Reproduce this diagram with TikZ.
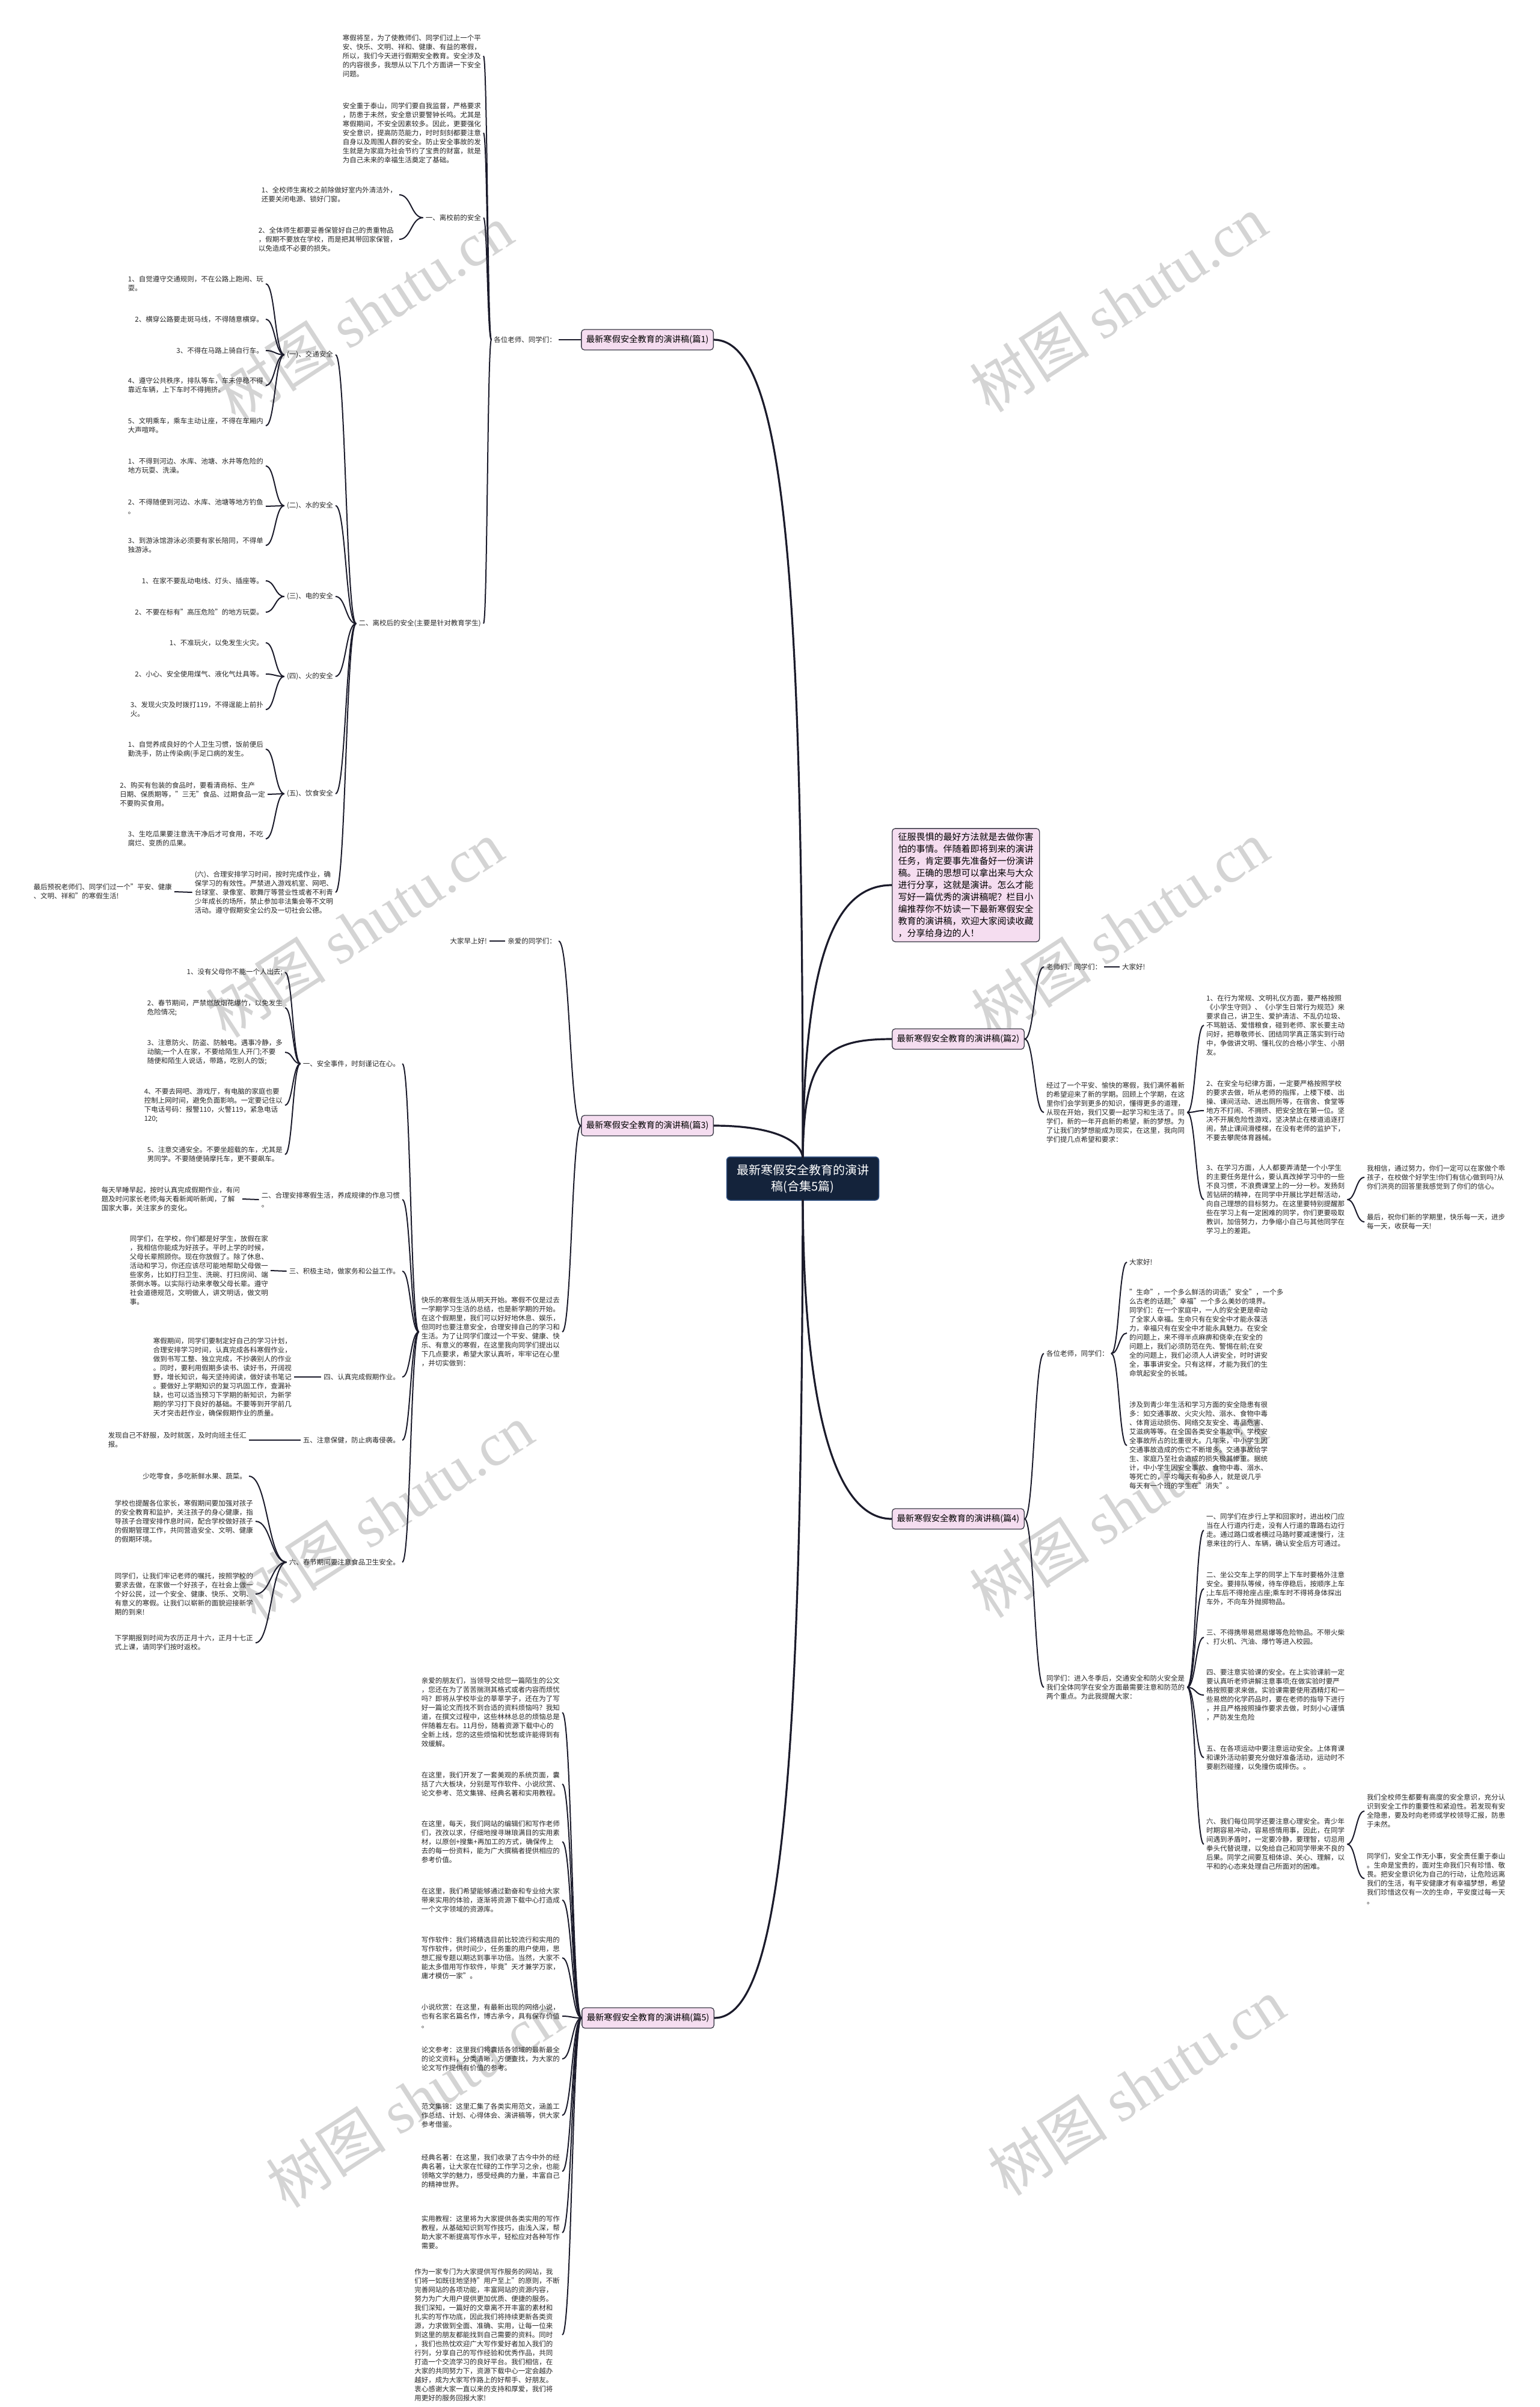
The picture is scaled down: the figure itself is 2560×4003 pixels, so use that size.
\documentclass[tikz,border=0pt]{standalone}
\usepackage{fontspec}
\setmainfont{Noto Sans CJK SC}
\newfontfamily\wmfont{Liberation Serif}
\usetikzlibrary{calc}
\definecolor{linec}{HTML}{1B1B2B}
\definecolor{pinkf}{HTML}{F5DDF0}
\definecolor{boxl}{HTML}{3C3C48}
\definecolor{navy}{HTML}{14233B}
\definecolor{navyl}{HTML}{2F4F80}
\definecolor{wm}{HTML}{D4D4D4}
\definecolor{txtc}{HTML}{262626}
\tikzset{
  t/.style={font=\fontsize{11.5}{15}\selectfont, align=left, inner xsep=4pt, inner ysep=1pt, text=txtc},
  tl/.style={t, anchor=east},
  tr/.style={t, anchor=west},
  topicbox/.style={draw=boxl, fill=pinkf, rounded corners=5pt, line width=1.3pt, font=\fontsize{14.3}{18}\selectfont, minimum height=34pt, inner xsep=8pt, inner ysep=4pt, text=black},
  introbox/.style={draw=boxl, fill=pinkf, rounded corners=5pt, line width=1.3pt, font=\fontsize{15}{20}\selectfont, align=left, inner xsep=10pt, inner ysep=7pt, text=black},
  centerbox/.style={draw=navyl, fill=navy, rounded corners=6pt, line width=1.5pt, font=\fontsize{20}{27}\selectfont, align=center, text=white, minimum width=253pt, minimum height=72pt},
  con/.style={draw=linec, line width=2pt},
  mcon/.style={draw=linec, line width=3.2pt},
  wmark/.style={text=wm, rotate=33, inner sep=0pt}
}
\newcommand\Lc[2]{\draw[con] let \p1=(#1.west), \p2=(#2.east) in (\p1) .. controls ({0.5*\x1+0.5*\x2},\y1) and ({0.5*\x1+0.5*\x2},\y2) .. (\p2);}
\newcommand\Rc[2]{\draw[con] let \p1=(#1.east), \p2=(#2.west) in (\p1) .. controls ({0.5*\x1+0.5*\x2},\y1) and ({0.5*\x1+0.5*\x2},\y2) .. (\p2);}
\newcommand\wmtext{{\fontsize{100}{100}\selectfont 树图 \wmfont shutu.cn}}
\begin{document}
\begin{tikzpicture}[x=1pt,y=-1pt]
\useasboundingbox (0,0) rectangle (2560,4003);
\fill[white] (0,0) rectangle (2560,4003);
% watermarks
\node[wmark] (w1) at (606,520) {\wmtext};
\node[wmark] (w2) at (1860,505) {\wmtext};
\node[wmark] (w3) at (590,1545) {\wmtext};
\node[wmark] (w4) at (1863,1545) {\wmtext};
\node[wmark] (w5) at (640,2515) {\wmtext};
\node[wmark] (w6) at (1860,2510) {\wmtext};
\node[wmark] (w7) at (690,3490) {\wmtext};
\node[wmark] (w8) at (1890,3470) {\wmtext};

% center and topics
\node[centerbox] (c) at (1335,1960) {最新寒假安全教育的演讲\\稿(合集5篇)};
\coordinate (ctop) at (1335,1925);
\coordinate (cbot) at (1335,1995);
\node[topicbox, anchor=east] (p1) at (1187,565) {最新寒假安全教育的演讲稿(篇1)};
\node[introbox, anchor=west] (intro) at (1483,1472) {征服畏惧的最好方法就是去做你害\\怕的事情。伴随着即将到来的演讲\\任务，肯定要事先准备好一份演讲\\稿。正确的思想可以拿出来与大众\\进行分享，这就是演讲。怎么才能\\写好一篇优秀的演讲稿呢？栏目小\\编推荐你不妨读一下最新寒假安全\\教育的演讲稿，欢迎大家阅读收藏\\，分享给身边的人！};
\node[topicbox, anchor=west] (p2) at (1483,1728) {最新寒假安全教育的演讲稿(篇2)};
\node[topicbox, anchor=east] (p3) at (1187,1872) {最新寒假安全教育的演讲稿(篇3)};
\node[topicbox, anchor=west] (p4) at (1483,2526) {最新寒假安全教育的演讲稿(篇4)};
\node[topicbox, anchor=east] (p5) at (1188,3356) {最新寒假安全教育的演讲稿(篇5)};

\draw[mcon] (ctop) .. controls (1335,1000) and (1310,565) .. (p1.east);
\draw[mcon] (ctop) .. controls (1337,1600) and (1385,1472) .. (intro.west);
\draw[mcon] (ctop) .. controls (1337,1760) and (1370,1728) .. (p2.west);
\draw[mcon] (ctop) .. controls (1330,1890) and (1270,1872) .. (p3.east);
\draw[mcon] (cbot) .. controls (1337,2350) and (1390,2526) .. (p4.west);
\draw[mcon] (cbot) .. controls (1333,2950) and (1300,3356) .. (p5.east);

% ---------- 篇1 ----------
\node[tl] (a1) at (929,565) {各位老师、同学们：};
\draw[con] (a1.east) -- (p1.west);
\node[tl] (a1p1) at (804,93) {寒假将至，为了使教师们、同学们过上一个平\\安、快乐、文明、祥和、健康、有益的寒假，\\所以，我们今天进行假期安全教育。安全涉及\\的内容很多，我想从以下几个方面讲一下安全\\问题。};
\node[tl] (a1p2) at (804,221) {安全重于泰山，同学们要自我监督，严格要求\\，防患于未然，安全意识要警钟长鸣。尤其是\\寒假期间，不安全因素较多。因此，更要强化\\安全意识，提高防范能力，时时刻刻都要注意\\自身以及周围人群的安全。防止安全事故的发\\生就是为家庭为社会节约了宝贵的财富，就是\\为自己未来的幸福生活奠定了基础。};
\node[tl] (s1) at (804,362) {一、离校前的安全};
\node[tl] (s1a) at (664,324) {1、全校师生离校之前除做好室内外清洁外，\\还要关闭电源、锁好门窗。};
\node[tl] (s1b) at (664,398) {2、全体师生都要妥善保管好自己的贵重物品\\，假期不要放在学校，而是把其带回家保管，\\以免造成不必要的损失。};
\node[tl] (s2) at (804,1037) {二、离校后的安全(主要是针对教育学生)};
\Lc{a1}{a1p1}\Lc{a1}{a1p2}\Lc{a1}{s1}\Lc{a1}{s2}
\Lc{s1}{s1a}\Lc{s1}{s1b}

\node[tl] (k1) at (558,590) {(一)、交通安全};
\node[tl] (k2) at (558,841) {(二)、水的安全};
\node[tl] (k3) at (558,992) {(三)、电的安全};
\node[tl] (k4) at (558,1125) {(四)、火的安全};
\node[tl] (k5) at (558,1320) {(五)、饮食安全};
\node[tl] (k6) at (558,1484) {(六)、合理安排学习时间，按时完成作业，确\\保学习的有效性。严禁进入游戏机室、网吧、\\台球室、录像室、歌舞厅等营业性或者不利青\\少年成长的场所，禁止参加非法集会等不文明\\活动。遵守假期安全公约及一切社会公德。};
\Lc{s2}{k1}\Lc{s2}{k2}\Lc{s2}{k3}\Lc{s2}{k4}\Lc{s2}{k5}\Lc{s2}{k6}

\node[tl] (k1a) at (442,472) {1、自觉遵守交通规则，不在公路上跑闹、玩\\耍。};
\node[tl] (k1b) at (442,531) {2、横穿公路要走斑马线，不得随意横穿。};
\node[tl] (k1c) at (442,583) {3、不得在马路上骑自行车。};
\node[tl] (k1d) at (442,641) {4、遵守公共秩序，排队等车，车未停稳不得\\靠近车辆，上下车时不得拥挤。};
\node[tl] (k1e) at (442,708) {5、文明乘车，乘车主动让座，不得在车厢内\\大声喧哗。};
\Lc{k1}{k1a}\Lc{k1}{k1b}\Lc{k1}{k1c}\Lc{k1}{k1d}\Lc{k1}{k1e}
\node[tl] (k2a) at (442,775) {1、不得到河边、水库、池塘、水井等危险的\\地方玩耍、洗澡。};
\node[tl] (k2b) at (442,842) {2、不得随便到河边、水库、池塘等地方钓鱼\\。};
\node[tl] (k2c) at (442,907) {3、到游泳馆游泳必须要有家长陪同，不得单\\独游泳。};
\Lc{k2}{k2a}\Lc{k2}{k2b}\Lc{k2}{k2c}
\node[tl] (k3a) at (442,966) {1、在家不要乱动电线、灯头、插座等。};
\node[tl] (k3b) at (442,1018) {2、不要在标有"高压危险"的地方玩耍。};
\Lc{k3}{k3a}\Lc{k3}{k3b}
\node[tl] (k4a) at (442,1069) {1、不准玩火，以免发生火灾。};
\node[tl] (k4b) at (442,1121) {2、小心、安全使用煤气、液化气灶具等。};
\node[tl] (k4c) at (442,1180) {3、发现火灾及时拨打119，不得逞能上前扑\\火。};
\Lc{k4}{k4a}\Lc{k4}{k4b}\Lc{k4}{k4c}
\node[tl] (k5a) at (442,1246) {1、自觉养成良好的个人卫生习惯，饭前便后\\勤洗手，防止传染病(手足口病的发生。};
\node[tl] (k5b) at (445,1321) {2、购买有包装的食品时，要看清商标、生产\\日期、保质期等，"三无"食品、过期食品一定\\不要购买食用。};
\node[tl] (k5c) at (442,1395) {3、生吃瓜果要注意洗干净后才可食用，不吃\\腐烂、变质的瓜果。};
\Lc{k5}{k5a}\Lc{k5}{k5b}\Lc{k5}{k5c}
\node[tl] (k6a) at (290,1483) {最后预祝老师们、同学们过一个"平安、健康\\、文明、祥和"的寒假生活!};
\draw[con] (k6.west) -- (k6a.east);

% ---------- 篇2 ----------
\node[tr] (b1) at (1736,1608) {老师们、同学们：};
\node[tr] (b1a) at (1862,1608) {大家好!};
\draw[con] (b1.east) -- (b1a.west);
\node[tr] (b2) at (1736,1850) {经过了一个平安、愉快的寒假，我们满怀着新\\的希望迎来了新的学期。回顾上个学期，在这\\里你们会学到更多的知识，懂得更多的道理，\\从现在开始，我们又要一起学习和生活了。同\\学们，新的一年开启新的希望，新的梦想。为\\了让我们的梦想能成为现实，在这里，我向同\\学们提几点希望和要求：};
\Rc{p2}{b1}\Rc{p2}{b2}
\node[tr] (b2a) at (2002,1705) {1、在行为常规、文明礼仪方面，要严格按照\\《小学生守则》、《小学生日常行为规范》来\\要求自己，讲卫生、爱护清洁、不乱仍垃圾、\\不骂脏话、爱惜粮食，碰到老师、家长要主动\\问好，把尊敬师长、团结同学真正落实到行动\\中，争做讲文明、懂礼仪的合格小学生、小朋\\友。};
\node[tr] (b2b) at (2002,1847) {2、在安全与纪律方面，一定要严格按照学校\\的要求去做，听从老师的指挥，上楼下楼、出\\操、课间活动、进出厕所等，在宿舍、食堂等\\地方不打闹、不拥挤、把安全放在第一位。坚\\决不开展危险性游戏，坚决禁止在楼道追逐打\\闹，禁止课间滑楼梯，在没有老师的监护下，\\不要去攀爬体育器械。};
\node[tr] (b2c) at (2002,1995) {3、在学习方面，人人都要弄清楚一个小学生\\的主要任务是什么，要认真改掉学习中的一些\\不良习惯，不浪费课堂上的一分一秒。发扬刻\\苦钻研的精神，在同学中开展比学赶帮活动，\\向自己理想的目标努力。在这里要特别提醒那\\些在学习上有一定困难的同学，你们更要吸取\\教训，加倍努力，力争缩小自己与其他同学在\\学习上的差距。};
\Rc{b2}{b2a}\Rc{b2}{b2b}\Rc{b2}{b2c}
\node[tr] (b2c1) at (2269,1958) {我相信，通过努力，你们一定可以在家做个乖\\孩子，在校做个好学生!你们有信心做到吗?从\\你们洪亮的回答里我感觉到了你们的信心。};
\node[tr] (b2c2) at (2269,2032) {最后，祝你们新的学期里，快乐每一天，进步\\每一天，收获每一天!};
\Rc{b2c}{b2c1}\Rc{b2c}{b2c2}

% ---------- 篇3 ----------
\node[tl] (e1) at (929,1565) {亲爱的同学们：};
\node[tl] (e1a) at (814,1565) {大家早上好!};
\draw[con] (e1.west) -- (e1a.east);
\node[tl] (e2) at (935,2215) {快乐的寒假生活从明天开始。寒假不仅是过去\\一学期学习生活的总结，也是新学期的开始。\\在这个假期里，我们可以好好地休息、娱乐，\\但同时也要注意安全，合理安排自己的学习和\\生活。为了让同学们度过一个平安、健康、快\\乐、有意义的寒假，在这里我向同学们提出以\\下几点要求，希望大家认真听，牢牢记在心里\\，并切实做到：};
\Lc{p3}{e1}\Lc{p3}{e2}
\node[tl] (g1) at (669,1769) {一、安全事件，时刻谨记在心。};
\node[tl] (g2) at (669,1995) {二、合理安排寒假生活，养成规律的作息习惯\\。};
\node[tl] (g3) at (669,2114) {三、积极主动，做家务和公益工作。};
\node[tl] (g4) at (669,2290) {四、认真完成假期作业。};
\node[tl] (g5) at (669,2395) {五、注意保健，防止病毒侵袭。};
\node[tl] (g6) at (669,2598) {六、春节期间要注意食品卫生安全。};
\Lc{e2}{g1}\Lc{e2}{g2}\Lc{e2}{g3}\Lc{e2}{g4}\Lc{e2}{g5}\Lc{e2}{g6}
\node[tl] (g1a) at (474,1617) {1、没有父母你不能一个人出去;};
\node[tl] (g1b) at (474,1676) {2、春节期间，严禁燃放烟花爆竹，以免发生\\危险情况;};
\node[tl] (g1c) at (474,1750) {3、注意防火、防盗、防触电。遇事冷静，多\\动脑;一个人在家，不要给陌生人开门;不要\\随便和陌生人说话，带路，吃别人的饭;};
\node[tl] (g1d) at (474,1838) {4、不要去网吧、游戏厅，有电脑的家庭也要\\控制上网时间，避免负面影响。一定要记住以\\下电话号码：报警110，火警119，紧急电话\\120;};
\node[tl] (g1e) at (474,1920) {5、注意交通安全。不要坐超载的车，尤其是\\男同学。不要随便骑摩托车，更不要飙车。};
\Lc{g1}{g1a}\Lc{g1}{g1b}\Lc{g1}{g1c}\Lc{g1}{g1d}\Lc{g1}{g1e}
\node[tl] (g2a) at (403,1994) {每天早睡早起，按时认真完成假期作业，有问\\题及时问家长老师;每天看新闻听新闻，了解\\国家大事，关注家乡的变化。};
\draw[con] (g2.west) -- (g2a.east);
\node[tl] (g3a) at (450,2113) {同学们，在学校，你们都是好学生，放假在家\\，我相信你能成为好孩子。平时上学的时候，\\父母长辈照顾你。现在你放假了。除了休息、\\活动和学习，你还应该尽可能地帮助父母做一\\些家务，比如打扫卫生、洗碗、打扫房间、端\\茶倒水等。以实际行动来孝敬父母长辈。遵守\\社会道德规范，文明做人，讲文明话，做文明\\事。};
\draw[con] (g3.west) -- (g3a.east);
\node[tl] (g4a) at (489,2290) {寒假期间，同学们要制定好自己的学习计划，\\合理安排学习时间，认真完成各科寒假作业，\\做到书写工整、独立完成，不抄袭别人的作业\\。同时，要利用假期多读书、读好书，开阔视\\野，增长知识，每天坚持阅读，做好读书笔记\\。要做好上学期知识的复习巩固工作，查漏补\\缺，也可以适当预习下学期的新知识，为新学\\期的学习打下良好的基础。不要等到开学前几\\天才突击赶作业，确保假期作业的质量。};
\draw[con] (g4.west) -- (g4a.east);
\node[tl] (g5a) at (414,2395) {发现自己不舒服，及时就医，及时向班主任汇\\报。};
\draw[con] (g5.west) -- (g5a.east);
\node[tl] (g6a) at (414,2455) {少吃零食，多吃新鲜水果、蔬菜。};
\node[tl] (g6b) at (425,2530) {学校也提醒各位家长，寒假期间要加强对孩子\\的安全教育和监护，关注孩子的身心健康，指\\导孩子合理安排作息时间，配合学校做好孩子\\的假期管理工作，共同营造安全、文明、健康\\的假期环境。};
\node[tl] (g6c) at (425,2651) {同学们，让我们牢记老师的嘱托，按照学校的\\要求去做，在家做一个好孩子，在社会上做一\\个好公民，过一个安全、健康、快乐、文明、\\有意义的寒假。让我们以崭新的面貌迎接新学\\期的到来!};
\node[tl] (g6d) at (425,2732) {下学期报到时间为农历正月十六，正月十七正\\式上课，请同学们按时返校。};
\Lc{g6}{g6a}\Lc{g6}{g6b}\Lc{g6}{g6c}\Lc{g6}{g6d}

% ---------- 篇4 ----------
\node[tr] (d1) at (1736,2251) {各位老师，同学们：};
\node[tr] (d2) at (1736,2806) {同学们：进入冬季后，交通安全和防火安全是\\我们全体同学在安全方面最需要注意和防范的\\两个重点。为此我提醒大家：};
\Rc{p4}{d1}\Rc{p4}{d2}
\node[tr] (d1a) at (1874,2099) {大家好!};
\node[tr] (d1b) at (1874,2217) {"生命"，一个多么鲜活的词语;"安全"，一个多\\么古老的话题;"幸福"一个多么美妙的境界。\\同学们：在一个家庭中，一人的安全更是牵动\\了全家人幸福。生命只有在安全中才能永葆活\\力，幸福只有在安全中才能永具魅力。在安全\\的问题上，来不得半点麻痹和侥幸;在安全的\\问题上，我们必须防范在先、警惕在前;在安\\全的问题上，我们必须人人讲安全，时时讲安\\全，事事讲安全。只有这样，才能为我们的生\\命筑起安全的长城。};
\node[tr] (d1c) at (1874,2404) {涉及到青少年生活和学习方面的安全隐患有很\\多：如交通事故、火灾火险、溺水、食物中毒\\、体育运动损伤、网络交友安全、毒品危害、\\艾滋病等等。在全国各类安全事故中，学校安\\全事故所占的比重很大。几年来，中小学生因\\交通事故造成的伤亡不断增多。交通事故给学\\生、家庭乃至社会造成的损失极其惨重。据统\\计，中小学生因安全事故、食物中毒、溺水、\\等死亡的，平均每天有40多人，就是说几乎\\每天有一个班的学生在"消失"。};
\Rc{d1}{d1a}\Rc{d1}{d1b}\Rc{d1}{d1c}
\node[tr] (d2a) at (2002,2545) {一、同学们在步行上学和回家时，进出校门应\\当在人行道内行走，没有人行道的靠路右边行\\走。通过路口或者横过马路时要减速慢行，注\\意来往的行人、车辆，确认安全后方可通过。};
\node[tr] (d2b) at (2002,2642) {二、坐公交车上学的同学上下车时要格外注意\\安全。要排队等候，待车停稳后，按顺序上车\\;上车后不得抢座占座;乘车时不得将身体探出\\车外，不向车外抛掷物品。};
\node[tr] (d2c) at (2002,2723) {三、不得携带易燃易爆等危险物品。不带火柴\\、打火机、汽油、爆竹等进入校园。};
\node[tr] (d2d) at (2002,2819) {四、要注意实验课的安全。在上实验课前一定\\要认真听老师讲解注意事项;在做实验时要严\\格按照要求来做。实验课需要使用酒精灯和一\\些易燃的化学药品时，要在老师的指导下进行\\，并且严格按照操作要求去做，时刻小心谨慎\\，严防发生危险};
\node[tr] (d2e) at (2002,2923) {五、在各项运动中要注意运动安全。上体育课\\和课外活动前要充分做好准备活动，运动时不\\要剧烈碰撞，以免撞伤或摔伤。。};
\node[tr] (d2f) at (2002,3067) {六、我们每位同学还要注意心理安全。青少年\\时期容易冲动，容易感情用事，因此，在同学\\间遇到矛盾时，一定要冷静，要理智，切忌用\\拳头代替说理，以免给自己和同学带来不良的\\后果。同学之间要互相体谅、关心、理解，以\\平和的心态来处理自己所面对的困难。};
\Rc{d2}{d2a}\Rc{d2}{d2b}\Rc{d2}{d2c}\Rc{d2}{d2d}\Rc{d2}{d2e}\Rc{d2}{d2f}
\node[tr] (d2f1) at (2269,3012) {我们全校师生都要有高度的安全意识，充分认\\识到安全工作的重要性和紧迫性。若发现有安\\全隐患，要及时向老师或学校领导汇报，防患\\于未然。};
\node[tr] (d2f2) at (2269,3124) {同学们，安全工作无小事，安全责任重于泰山\\。生命是宝贵的，面对生命我们只有珍惜、敬\\畏。把安全意识化为自己的行动，让危险远离\\我们的生活，有平安健康才有幸福梦想，希望\\我们珍惜这仅有一次的生命，平安度过每一天\\。};
\Rc{d2f}{d2f1}\Rc{d2f}{d2f2}

% ---------- 篇5 ----------
\node[tl] (f1) at (935,2848) {亲爱的朋友们，当领导交给您一篇陌生的公文\\，您还在为了苦苦揣测其格式或者内容而烦忧\\吗？即将从学校毕业的莘莘学子，还在为了写\\好一篇论文而找不到合适的资料烦恼吗？我知\\道，在撰文过程中，这些林林总总的烦恼总是\\伴随着左右。11月份，随着资源下载中心的\\全新上线，您的这些烦恼和忧愁或许能得到有\\效缓解。};
\node[tl] (f2) at (935,2967) {在这里，我们开发了一套美观的系统页面，囊\\括了六大板块，分别是写作软件、小说欣赏、\\论文参考、范文集锦、经典名著和实用教程。};
\node[tl] (f3) at (935,3063) {在这里，每天，我们网站的编辑们和写作老师\\们，孜孜以求，仔细地搜寻琳琅满目的实用素\\材，以原创+搜集+再加工的方式，确保传上\\去的每一份资料，能为广大撰稿者提供相应的\\参考价值。};
\node[tl] (f4) at (935,3160) {在这里，我们希望能够通过勤奋和专业给大家\\带来实用的体验，逐渐将资源下载中心打造成\\一个文字领域的资源库。};
\node[tl] (f5) at (935,3256) {写作软件：我们将精选目前比较流行和实用的\\写作软件，供时间少，任务重的用户使用，思\\想汇报专题以期达到事半功倍。当然，大家不\\能太多借用写作软件，毕竟"天才兼学万家，\\庸才模仿一家"。};
\node[tl] (f6) at (935,3353) {小说欣赏：在这里，有最新出现的网络小说，\\也有名家名篇名作，博古承今，具有保存价值\\。};
\node[tl] (f7) at (935,3424) {论文参考：这里我们将囊括各领域的最新最全\\的论文资料，分类清晰，方便查找，为大家的\\论文写作提供有价值的参考。};
\node[tl] (f8) at (935,3518) {范文集锦：这里汇集了各类实用范文，涵盖工\\作总结、计划、心得体会、演讲稿等，供大家\\参考借鉴。};
\node[tl] (f9) at (935,3611) {经典名著：在这里，我们收录了古今中外的经\\典名著，让大家在忙碌的工作学习之余，也能\\领略文学的魅力，感受经典的力量，丰富自己\\的精神世界。};
\node[tl] (f10) at (935,3713) {实用教程：这里将为大家提供各类实用的写作\\教程，从基础知识到写作技巧，由浅入深，帮\\助大家不断提高写作水平，轻松应对各种写作\\需要。};
\node[tl] (f11) at (935,3883) {作为一家专门为大家提供写作服务的网站，我\\们将一如既往地坚持"用户至上"的原则，不断\\完善网站的各项功能，丰富网站的资源内容，\\努力为广大用户提供更加优质、便捷的服务。\\我们深知，一篇好的文章离不开丰富的素材和\\扎实的写作功底，因此我们将持续更新各类资\\源，力求做到全面、准确、实用，让每一位来\\到这里的朋友都能找到自己需要的资料。同时\\，我们也热忱欢迎广大写作爱好者加入我们的\\行列，分享自己的写作经验和优秀作品，共同\\打造一个交流学习的良好平台。我们相信，在\\大家的共同努力下，资源下载中心一定会越办\\越好，成为大家写作路上的好帮手、好朋友。\\衷心感谢大家一直以来的支持和厚爱，我们将\\用更好的服务回报大家!};
\Lc{p5}{f1}\Lc{p5}{f2}\Lc{p5}{f3}\Lc{p5}{f4}\Lc{p5}{f5}\Lc{p5}{f6}\Lc{p5}{f7}\Lc{p5}{f8}\Lc{p5}{f9}\Lc{p5}{f10}\Lc{p5}{f11}
\end{tikzpicture}
\end{document}
